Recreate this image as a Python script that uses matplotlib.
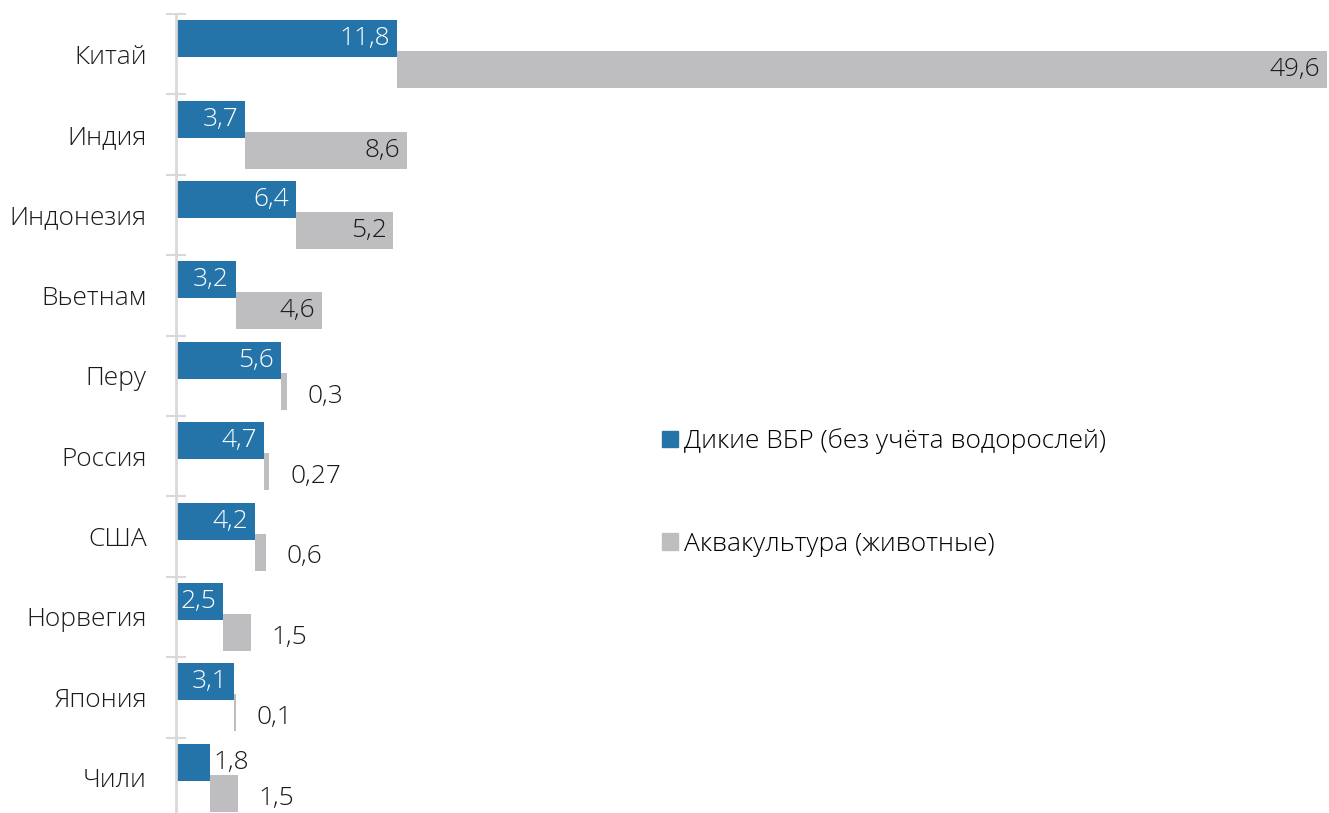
import matplotlib.pyplot as plt
from matplotlib.patches import Patch

plt.rcParams['font.family'] = ['Open Sans', 'DejaVu Sans']

countries = ['Китай', 'Индия', 'Индонезия', 'Вьетнам', 'Перу', 'Россия', 'США',
             'Норвегия', 'Япония', 'Чили']
wild = [11.8, 3.7, 6.4, 3.2, 5.6, 4.7, 4.2, 2.5, 3.1, 1.8]
aqua = [49.6, 8.6, 5.2, 4.6, 0.3, 0.27, 0.6, 1.5, 0.1, 1.5]
wild_labels = ['11,8', '3,7', '6,4', '3,2', '5,6', '4,7', '4,2', '2,5', '3,1', '1,8']
aqua_labels = ['49,6', '8,6', '5,2', '4,6', '0,3', '0,27', '0,6', '1,5', '0,1', '1,5']

blue = '#2474a9'
grey = '#bebec0'
txt = '#1a1a1a'

fig = plt.figure(figsize=(13.29, 8.13), dpi=100)
ax = fig.add_axes([176/1329, 1 - 818/813, 1 - 176/1329, (818 - 14)/813])

y = list(range(len(countries)))
h = 0.46
off = 0.193
yb = [i - off for i in y]
yg = [i + off for i in y]
ax.barh(yb, wild, height=h, color=blue)
ax.barh(yg, aqua, left=wild, height=h, color=grey)

fs = 19
for i in y:
    # blue labels: inside unless bar too short
    if wild[i] >= 2.4:
        ax.annotate(wild_labels[i], (wild[i], yb[i]), xytext=(-5, 0), textcoords='offset points',
                    ha='right', va='center', color='white', fontsize=fs, fontweight='light')
    else:
        ax.annotate(wild_labels[i], (wild[i], yb[i]), xytext=(3, 0), textcoords='offset points',
                    ha='left', va='center', color=txt, fontsize=fs, fontweight='light')
    end = wild[i] + aqua[i]
    if aqua[i] >= 3:
        ax.annotate(aqua_labels[i], (end, yg[i]), xytext=(-5, 0), textcoords='offset points',
                    ha='right', va='center', color=txt, fontsize=fs, fontweight='light')
    else:
        ax.annotate(aqua_labels[i], (end, yg[i] + 0.06), xytext=(15, 0), textcoords='offset points',
                    ha='left', va='center', color=txt, fontsize=fs, fontweight='light')

ax.set_xlim(0, 61.5)
ax.set_ylim(len(countries) - 0.5, -0.5)
ax.set_yticks(y)
ax.set_yticklabels(countries, fontsize=19, color=txt, fontweight='light')
ax.tick_params(axis='y', which='major', length=0, pad=21)
ax.set_yticks([i - 0.5 for i in range(len(countries) + 1)], minor=True)
ax.tick_params(axis='y', which='minor', length=14, width=1.5, direction='inout', color='#d9d9d9')
ax.set_xticks([])
for s in ['top', 'right', 'bottom']:
    ax.spines[s].set_visible(False)
ax.spines['left'].set_color('#d9d9d9')
ax.spines['left'].set_linewidth(2)

handles = [Patch(color=blue), Patch(color=grey)]
fig.legend(handles, ['Дикие ВБР (без учёта водорослей)', 'Аквакультура (животные)'],
           loc='center left', bbox_to_anchor=(0.488, 0.394), frameon=False,
           prop={'size': 19, 'weight': 'light'}, labelspacing=2.95,
           handlelength=0.6, handleheight=0.6, handletextpad=0.25, borderpad=0)

fig.savefig('out.png', dpi=100)
